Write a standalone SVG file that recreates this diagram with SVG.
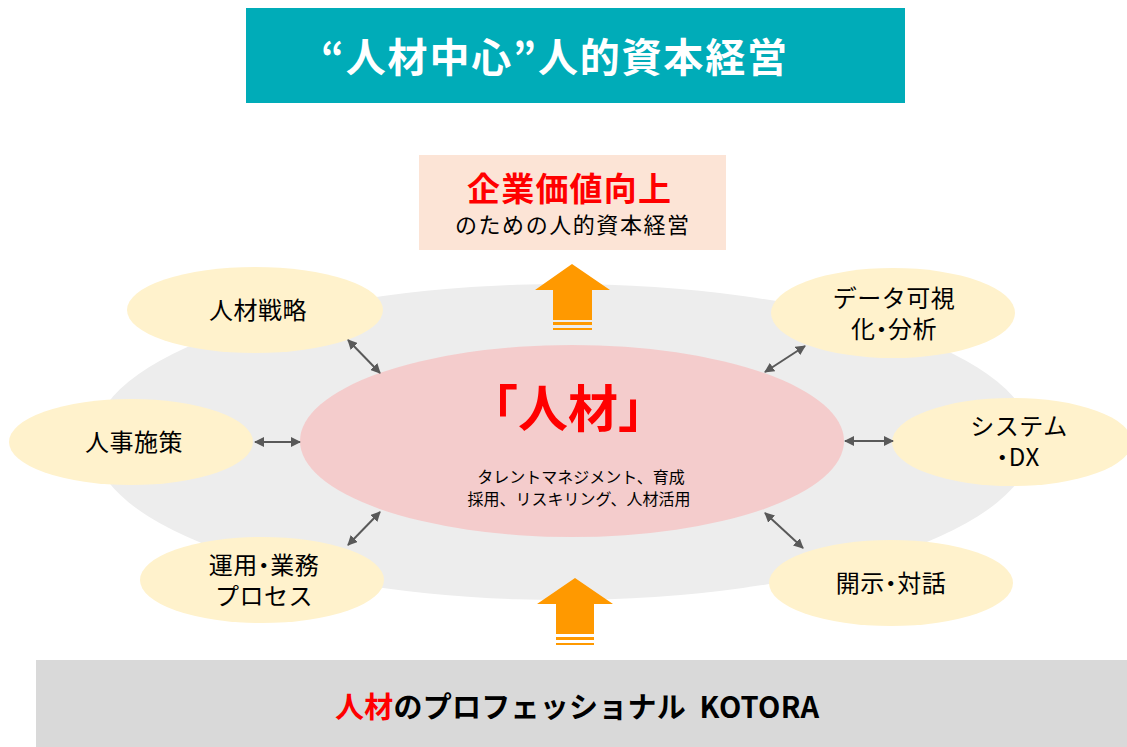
<svg xmlns="http://www.w3.org/2000/svg" width="1127" height="747" viewBox="0 0 1127 747">
<defs>
<style>
text{font-family:"Noto Sans CJK JP","Liberation Sans",sans-serif;text-anchor:middle;fill:#000}
.node{fill:#FFF2CC}
.lbl{font-size:24px;letter-spacing:0.5px}
.dot{font-feature-settings:"palt"}
.conn{stroke:#595959;stroke-width:2;fill:none;marker-start:url(#ah);marker-end:url(#ah)}
.up{fill:#FF9900}
.red{fill:#FF0000}
</style>
<marker id="ah" viewBox="0 0 10 10" refX="9" refY="5" markerWidth="5" markerHeight="5" orient="auto-start-reverse" markerUnits="strokeWidth">
<path d="M0,0 L10,5 L0,10 z" fill="#595959"/>
</marker>
</defs>
<rect width="1127" height="747" fill="#fff"/>
<g id="title">
<rect x="246" y="8" width="659" height="95" fill="#00ACB8"/>
<text x="321" y="72" font-size="40" font-weight="bold" style="fill:#fff;text-anchor:start" textLength="466" lengthAdjust="spacing"><tspan class="dot">“</tspan>人材中心<tspan class="dot">”</tspan>人的資本経営</text>
</g>
<g id="background-ellipse">
<ellipse cx="563" cy="442" rx="470" ry="158" fill="#EDEDED"/>
</g>
<g id="goal">
<rect x="419" y="155" width="307" height="95" fill="#FCE4D6"/>
<text class="red" x="467" y="201" font-size="33" font-weight="bold" style="text-anchor:start" textLength="204" lengthAdjust="spacing">企業価値向上</text>
<text x="455" y="233" font-size="22" style="text-anchor:start" textLength="234" lengthAdjust="spacing">のための人的資本経営</text>
</g>
<g id="center">
<ellipse cx="572" cy="441" rx="272" ry="96" fill="#F4CCCC"/>
<text class="red" x="568" y="427" font-size="50" font-weight="bold">「人材」</text>
<text font-size="16"><tspan x="581" y="483">タレントマネジメント、育成</tspan><tspan x="579" y="505">採用、リスキリング、人材活用</tspan></text>
</g>
<g id="node-strategy">
<ellipse class="node" cx="255" cy="310" rx="128" ry="43"/>
<text class="lbl" x="258" y="319">人材戦略</text>
</g>
<g id="node-data">
<ellipse class="node" cx="893" cy="313" rx="122" ry="45"/>
<text class="lbl"><tspan x="894" y="307">データ可視</tspan><tspan x="894" y="338">化<tspan class="dot">・</tspan>分析</tspan></text>
</g>
<g id="node-hr">
<ellipse class="node" cx="131" cy="442" rx="122" ry="43"/>
<text class="lbl" x="134" y="451">人事施策</text>
</g>
<g id="node-system">
<ellipse class="node" cx="1012" cy="442" rx="120" ry="44"/>
<text class="lbl"><tspan x="1019" y="435">システム</tspan><tspan x="1018" y="466"><tspan class="dot">・</tspan>DX</tspan></text>
</g>
<g id="node-ops">
<ellipse class="node" cx="262" cy="580" rx="122" ry="43"/>
<text class="lbl"><tspan x="264" y="574">運用<tspan class="dot">・</tspan>業務</tspan><tspan x="264" y="605">プロセス</tspan></text>
</g>
<g id="node-disclosure">
<ellipse class="node" cx="891" cy="583" rx="122" ry="43"/>
<text class="lbl" x="891" y="592">開示<tspan class="dot">・</tspan>対話</text>
</g>
<g id="connectors">
<line class="conn" x1="348" y1="340" x2="380" y2="373"/>
<line class="conn" x1="255" y1="442" x2="300" y2="442"/>
<line class="conn" x1="348" y1="545" x2="380" y2="512"/>
<line class="conn" x1="765" y1="372" x2="805" y2="346"/>
<line class="conn" x1="845" y1="441" x2="893" y2="441"/>
<line class="conn" x1="765" y1="513" x2="803" y2="548"/>
</g>
<g id="arrow-top">
<path class="up" d="M572,264 L610,290 L592,290 L592,320 L553,320 L553,290 L535,290 Z"/>
<rect class="up" x="553" y="322" width="39" height="3"/>
<rect class="up" x="553" y="328" width="39" height="2"/>
</g>
<g id="arrow-bottom">
<path class="up" d="M575,578 L613,604 L594,604 L594,634 L556,634 L556,604 L537,604 Z"/>
<rect class="up" x="556" y="637" width="38" height="3"/>
<rect class="up" x="556" y="643" width="38" height="2"/>
</g>
<g id="footer">
<rect x="36" y="660" width="1091" height="87" fill="#D9D9D9"/>
<text x="335" y="718" font-size="29" font-weight="bold" style="text-anchor:start" textLength="484" lengthAdjust="spacing" xml:space="preserve"><tspan class="red">人材</tspan>のプロフェッショナル  KOTORA</text>
</g>
</svg>
